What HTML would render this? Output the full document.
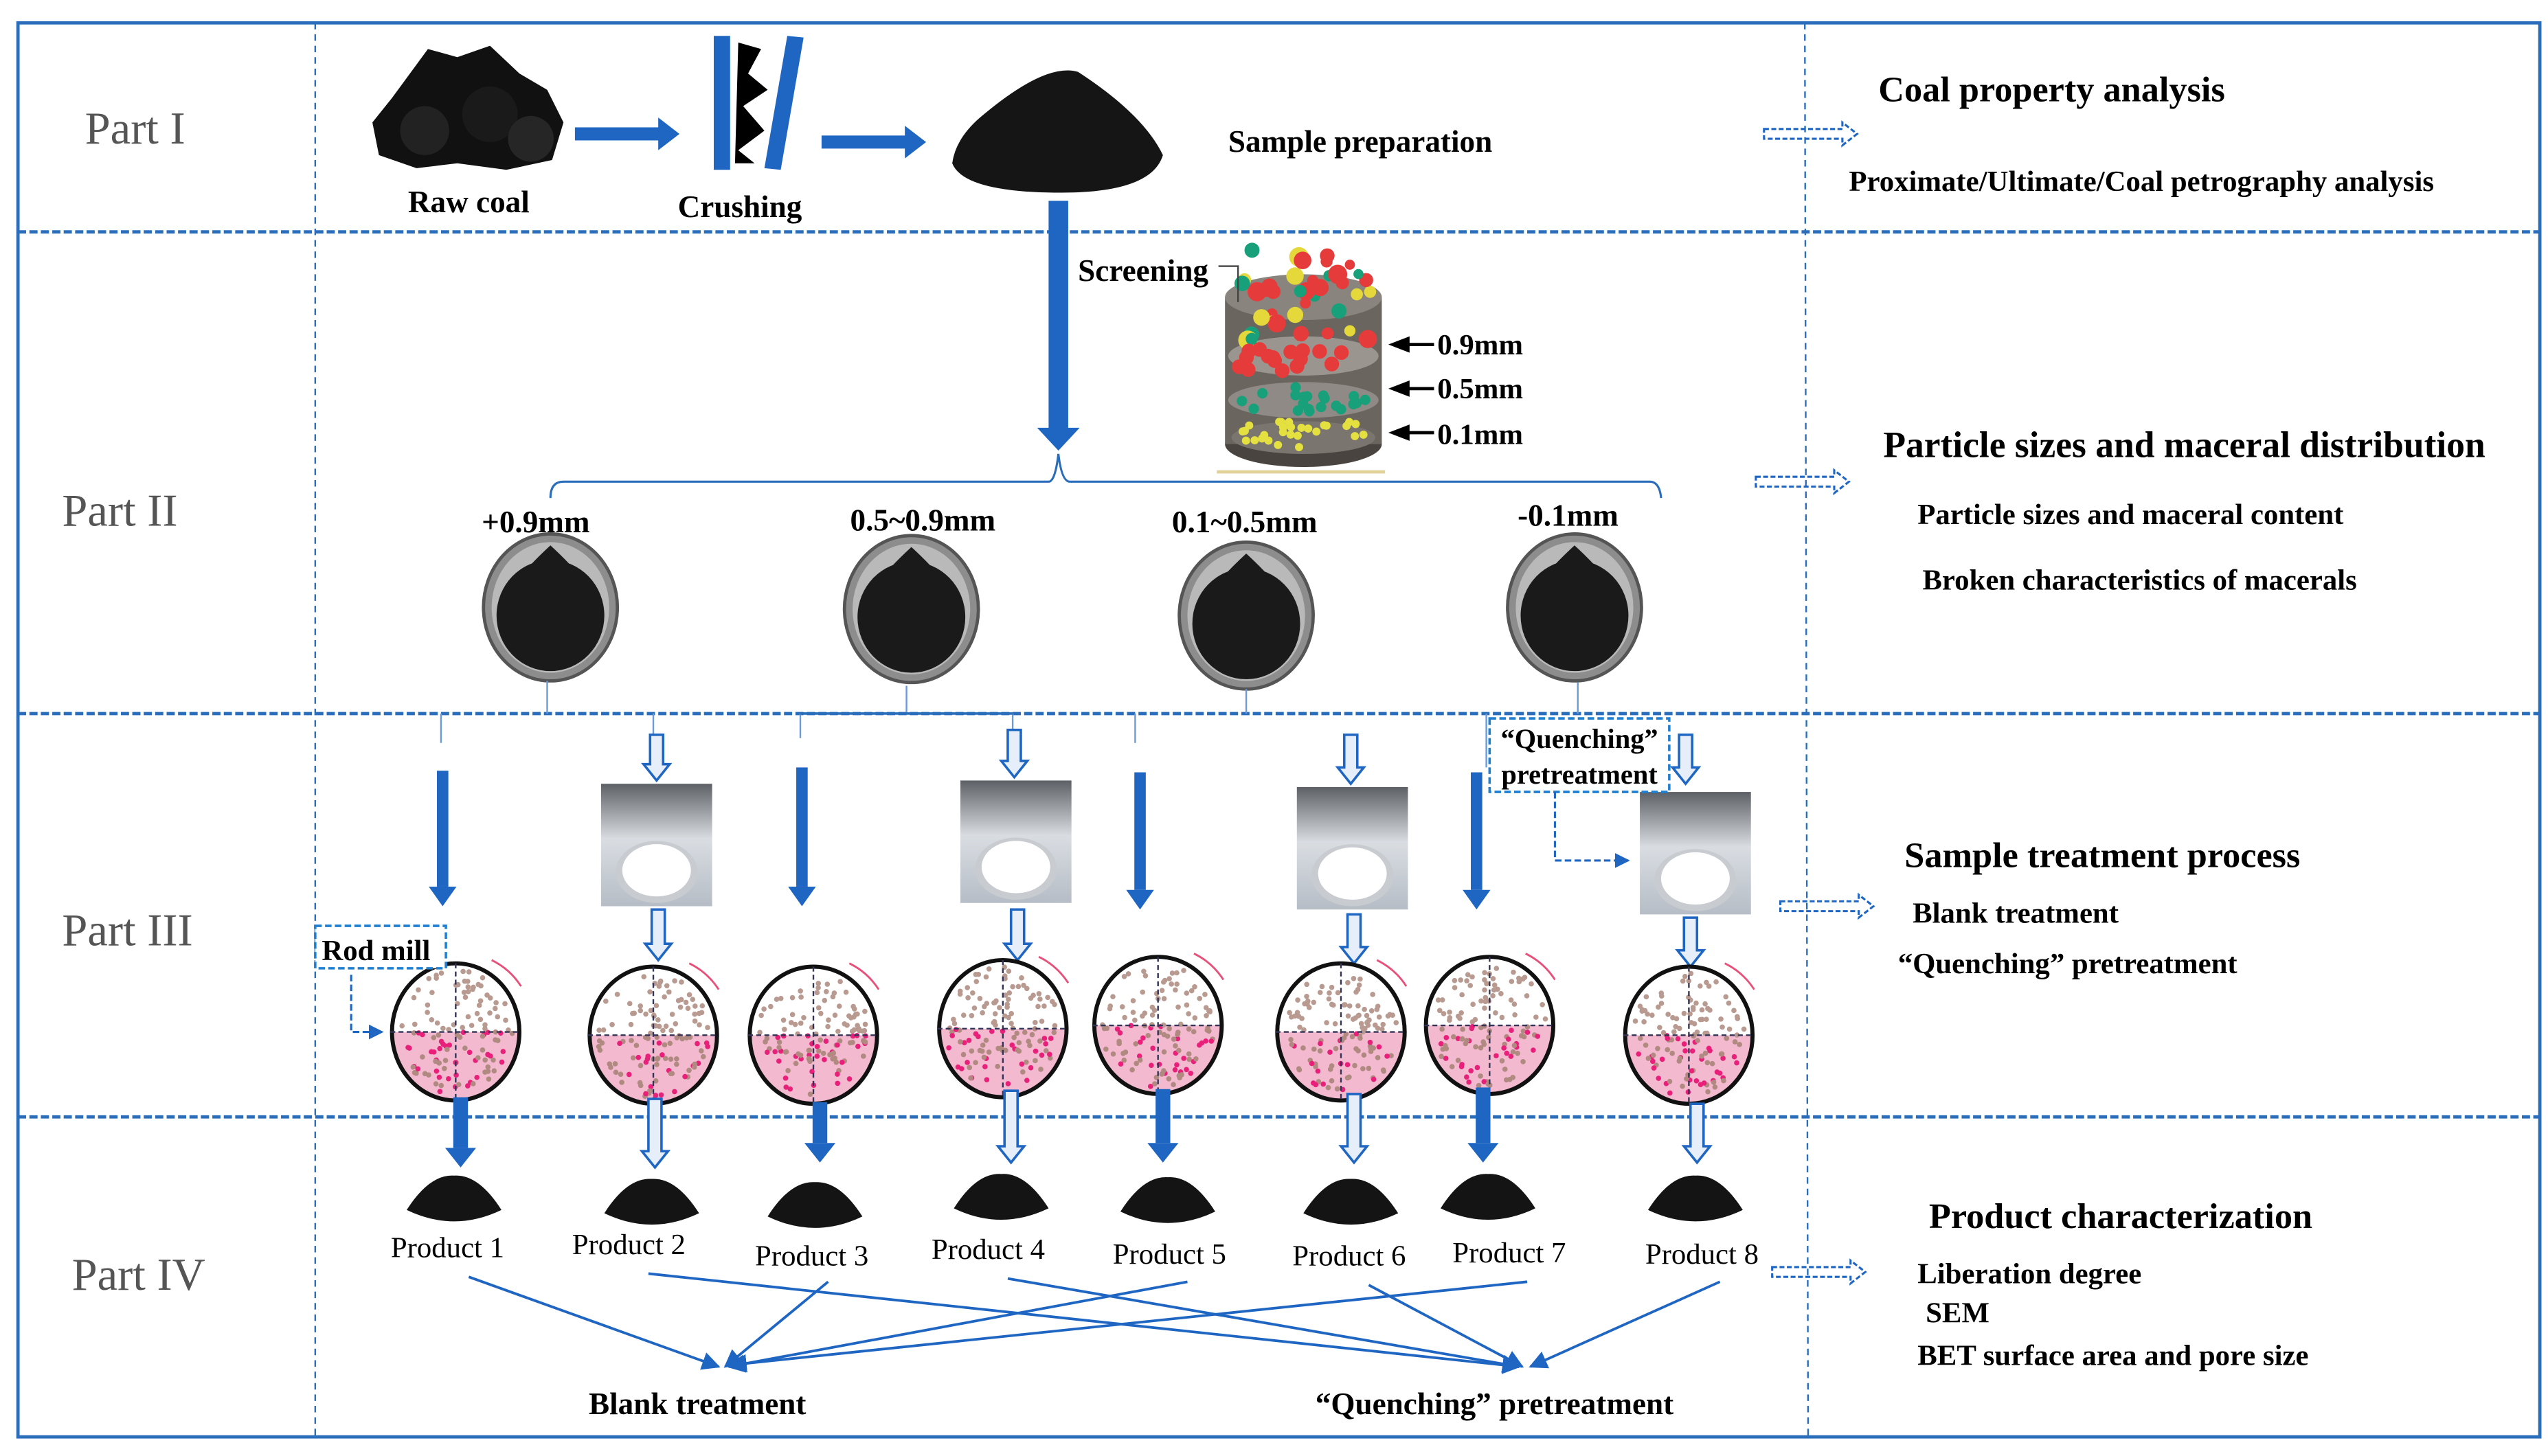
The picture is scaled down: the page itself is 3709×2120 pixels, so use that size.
<!DOCTYPE html>
<html><head><meta charset="utf-8"><style>
html,body{margin:0;padding:0;background:#fff}
svg{display:block}
text{font-family:"Liberation Serif",serif}
.b{font-weight:bold;fill:#000}
.p{fill:#555}
</style></head><body>
<svg id="s" width="3709" height="2120" viewBox="0 0 1560 891.7" preserveAspectRatio="none" xmlns="http://www.w3.org/2000/svg">
<defs>
<linearGradient id="ph" x1="0" y1="0" x2="0" y2="1"><stop offset="0" stop-color="#5d6166"/><stop offset="0.45" stop-color="#d9dde2"/><stop offset="1" stop-color="#b6bdc6"/></linearGradient>
<marker id="ah" viewBox="0 0 10 10" refX="9" refY="5" markerWidth="7" markerHeight="7" orient="auto"><path d="M0,0 L10,5 L0,10 z" fill="#1f66c2"/></marker>
</defs>
<g id="frame" fill="none" stroke="#2a6ebb">
<rect x="11" y="14" width="1544" height="866" stroke-width="2"/>
<g stroke-width="2" stroke-dasharray="5,2"><line x1="11" y1="142" x2="1555" y2="142"/><line x1="11" y1="437" x2="1555" y2="437"/><line x1="11" y1="684" x2="1555" y2="684"/></g>
<g stroke-width="1" stroke-dasharray="4,3"><line x1="193" y1="14" x2="193" y2="880"/><line x1="1105" y1="14" x2="1107" y2="880"/></g>
</g>
<text x="52" y="88" font-size="28" class="p">Part I</text>
<text x="38" y="322" font-size="28" class="p">Part II</text>
<text x="38" y="579" font-size="28" class="p">Part III</text>
<text x="44" y="790" font-size="28" class="p">Part IV</text>

<!-- Part I -->
<g fill="#111">
<path d="M240,60 L262,30 L280,35 L300,28 L318,45 L335,55 L345,75 L338,98 L310,104 L280,100 L255,103 L232,95 L228,75 Z"/>
<circle cx="260" cy="80" r="15" fill="#222"/><circle cx="300" cy="70" r="17" fill="#1a1a1a"/><circle cx="325" cy="85" r="14" fill="#262626"/>
</g>
<g fill="#1f66c2">
<rect x="352" y="78" width="52" height="8"/><path d="M403,72 L416,82 L403,92 Z"/>
<rect x="503" y="83" width="52" height="8"/><path d="M554,77 L567,87 L554,97 Z"/>
<path d="M437,22 L447,22 L447,104 L437,104 Z"/><path d="M482,22 L492,23 L478,104 L468,103 Z"/>
</g>
<path d="M452,26 L466,30 L458,45 L470,55 L455,65 L468,80 L452,92 L462,100 L450,100 Z" fill="#000"/>
<path d="M600,72 Q640,38 660,44 Q700,70 712,95 Q705,118 650,118 Q590,118 583,100 Q585,85 600,72 Z" fill="#151515"/>
<text x="287" y="130" font-size="19" class="b" text-anchor="middle">Raw coal</text>
<text x="453" y="133" font-size="19" class="b" text-anchor="middle">Crushing</text>
<text x="752" y="93" font-size="19" class="b">Sample preparation</text>
<text x="1150" y="62" font-size="22" class="b">Coal property analysis</text>
<text x="1132" y="117" font-size="18" class="b">Proximate/Ultimate/Coal petrography analysis</text>

<!-- Part II -->
<rect x="642" y="123" width="12" height="140" fill="#1f66c2"/><path d="M635,262 L661,262 L648,276 Z" fill="#1f66c2"/>
<path d="M337,305 Q337,295 345,295 L642,295 Q646,295 648,278 Q650,295 655,295 L1010,295 Q1016,295 1017,305" fill="none" stroke="#2a6ebb" stroke-width="1.3"/>
<g id="sieve">
<ellipse cx="798" cy="272" rx="48" ry="14" fill="#4a4440"/>
<rect x="750" y="182" width="96" height="90" fill="#6b6560"/>
<ellipse cx="798" cy="182" rx="48" ry="14" fill="#8a847e"/>
<ellipse cx="798" cy="218" rx="46" ry="12" fill="#9b9590"/>
<ellipse cx="798" cy="245" rx="46" ry="11" fill="#8f8a85"/>
<ellipse cx="798" cy="268" rx="44" ry="10" fill="#7a756f"/>
<g id="balls"></g>
<rect x="745" y="288" width="103" height="2" fill="#e0d29a"/>
</g>
<text x="660" y="172" font-size="19" class="b">Screening</text>
<path d="M746,163 L758,163 L758,185" fill="none" stroke="#444" stroke-width="1"/>
<g stroke="#000" stroke-width="2"><line x1="862" y1="211" x2="878" y2="211"/><line x1="862" y1="238" x2="878" y2="238"/><line x1="862" y1="265" x2="878" y2="265"/></g>
<g fill="#000"><path d="M850,211 L863,206 L863,216Z"/><path d="M850,238 L863,233 L863,243Z"/><path d="M850,265 L863,260 L863,270Z"/></g>
<text x="880" y="217" font-size="18" class="b">0.9mm</text>
<text x="880" y="244" font-size="18" class="b">0.5mm</text>
<text x="880" y="272" font-size="18" class="b">0.1mm</text>
<text x="328" y="326" font-size="19" class="b" text-anchor="middle">+0.9mm</text>
<text x="565" y="325" font-size="19" class="b" text-anchor="middle">0.5~0.9mm</text>
<text x="762" y="326" font-size="19" class="b" text-anchor="middle">0.1~0.5mm</text>
<text x="960" y="322" font-size="19" class="b" text-anchor="middle">-0.1mm</text>
<g id="dishes"></g>
<text x="1153" y="280" font-size="22.5" class="b">Particle sizes and maceral distribution</text>
<text x="1174" y="321" font-size="18" class="b">Particle sizes and maceral content</text>
<text x="1177" y="361" font-size="18" class="b">Broken characteristics of macerals</text>

<g stroke="#6a9ad8" stroke-width="1" fill="none">
<line x1="335" y1="417" x2="335" y2="437"/><line x1="555" y1="420" x2="555" y2="437"/><line x1="763" y1="422" x2="763" y2="437"/><line x1="966" y1="418" x2="966" y2="437"/>
<line x1="270" y1="437" x2="270" y2="455"/><line x1="400" y1="437" x2="400" y2="450"/><line x1="490" y1="437" x2="490" y2="452"/><line x1="620" y1="437" x2="620" y2="447"/><line x1="695" y1="437" x2="695" y2="455"/><line x1="910" y1="437" x2="910" y2="470"/>
<line x1="490" y1="437" x2="620" y2="437" stroke="#2a6ebb" stroke-width="1.5"/>
</g>

<g id="p3"></g>

<rect x="193" y="567" width="80" height="26" fill="#fff" stroke="#1f7fd0" stroke-width="1.5" stroke-dasharray="4,2"/>
<text x="197" y="588" font-size="18" class="b">Rod mill</text>
<path d="M215,597 L215,632 L234,632" fill="none" stroke="#1f66c2" stroke-width="1.3" stroke-dasharray="4,2" marker-end="url(#ah)"/>
<rect x="912" y="440" width="110" height="45" fill="#fff" stroke="#1f7fd0" stroke-width="1.5" stroke-dasharray="4,2"/>
<text x="967" y="458" font-size="17" class="b" text-anchor="middle">“Quenching”</text>
<text x="967" y="480" font-size="17" class="b" text-anchor="middle">pretreatment</text>
<path d="M952,485 L952,527 L997,527" fill="none" stroke="#1f66c2" stroke-width="1.3" stroke-dasharray="4,2" marker-end="url(#ah)"/>

<text x="1166" y="531" font-size="22" class="b">Sample treatment process</text>
<text x="1171" y="565" font-size="18" class="b">Blank treatment</text>
<text x="1162" y="596" font-size="18" class="b">“Quenching” pretreatment</text>

<g stroke="#1f66c2" stroke-width="1.6" fill="none" marker-end="url(#ah)">
<line x1="287" y1="782" x2="440" y2="837"/><line x1="507" y1="785" x2="444" y2="837"/><line x1="727" y1="785" x2="446" y2="837"/><line x1="935" y1="785" x2="447" y2="836"/>
<line x1="397" y1="780" x2="930" y2="837"/><line x1="617" y1="783" x2="930" y2="837"/><line x1="838" y1="787" x2="932" y2="837"/><line x1="1053" y1="785" x2="937" y2="837"/>
</g>
<g font-size="18" text-anchor="middle" fill="#000">
<text x="274" y="770">Product 1</text><text x="385" y="768">Product 2</text><text x="497" y="775">Product 3</text><text x="605" y="771">Product 4</text>
<text x="716" y="774">Product 5</text><text x="826" y="775">Product 6</text><text x="924" y="773">Product 7</text><text x="1042" y="774">Product 8</text>
</g>
<text x="427" y="866" font-size="19" class="b" text-anchor="middle">Blank treatment</text>
<text x="915" y="866" font-size="19" class="b" text-anchor="middle">“Quenching” pretreatment</text>
<text x="1181" y="752" font-size="22" class="b">Product characterization</text>
<text x="1174" y="786" font-size="18" class="b">Liberation degree</text>
<text x="1179" y="810" font-size="18" class="b">SEM</text>
<text x="1174" y="836" font-size="18" class="b">BET surface area and pore size</text>

<g id="dash"></g>
</svg>
<script>
var NS="http://www.w3.org/2000/svg";
function el(p,t,a){var e=document.createElementNS(NS,t);for(var k in a)e.setAttribute(k,a[k]);p.appendChild(e);return e;}
var B=document.getElementById('balls');
var seed=7;function r(){seed=(seed*9301+49297)%233280;return seed/233280;}
for(var i=0;i<40;i++){el(B,'circle',{cx:760+r()*80,cy:152+r()*60,r:3+r()*3,fill:['#e53b3b','#e53b3b','#18a07a','#e4d83a'][i%4]});}
for(var i=0;i<16;i++){el(B,'circle',{cx:758+r()*80,cy:214+r()*14,r:4.5,fill:'#e53b3b'});}
for(var i=0;i<20;i++){el(B,'circle',{cx:758+r()*80,cy:236+r()*16,r:3.2,fill:'#18a07a'});}
for(var i=0;i<28;i++){el(B,'circle',{cx:758+r()*80,cy:258+r()*16,r:2.5,fill:'#e4e040'});}
var D=document.getElementById('dishes');
[[337,372],[558,373],[763,377],[964,372]].forEach(function(c){
el(D,'ellipse',{cx:c[0],cy:c[1],rx:41,ry:45,fill:'#8d8d8d',stroke:'#555','stroke-width':2});
el(D,'ellipse',{cx:c[0],cy:c[1],rx:36,ry:40,fill:'#b9b9b9'});
el(D,'ellipse',{cx:c[0],cy:c[1]+5,rx:33,ry:34,fill:'#1a1a1a'});
el(D,'path',{d:'M'+c[0]+','+(c[1]-38)+' Q'+(c[0]+25)+','+(c[1]-15)+' '+(c[0]+30)+','+c[1]+' L'+(c[0]-30)+','+c[1]+' Q'+(c[0]-25)+','+(c[1]-15)+' '+c[0]+','+(c[1]-38)+'Z',fill:'#1a1a1a'});
});
var P=document.getElementById('p3');
function solid(x,y1,y2,w){el(P,'rect',{x:x-w/2,y:y1,width:w,height:y2-y1-12,fill:'#1f66c2'});el(P,'path',{d:'M'+(x-w/2-5)+','+(y2-12)+' L'+(x+w/2+5)+','+(y2-12)+' L'+x+','+y2+'Z',fill:'#1f66c2'});}
function hollow(x,y1,y2){el(P,'path',{d:'M'+(x-4)+','+y1+' L'+(x+4)+','+y1+' L'+(x+4)+','+(y2-10)+' L'+(x+8)+','+(y2-10)+' L'+x+','+y2+' L'+(x-8)+','+(y2-10)+' L'+(x-4)+','+(y2-10)+'Z',fill:'#e6eefa',stroke:'#1f66c2','stroke-width':1.5});}
[[271,472,555],[491,470,555],[698,473,557],[904,473,557]].forEach(function(a){solid(a[0],a[1],a[2],7);});
[[402,450,478],[621,447,476],[827,450,480],[1032,450,480],[403,557,588],[623,557,588],[829,560,590],[1035,562,592]].forEach(function(a){hollow(a[0],a[1],a[2]);});
[[368,480],[588,478],[794,482],[1004,485]].forEach(function(p){
el(P,'rect',{x:p[0],y:p[1],width:68,height:75,fill:'url(#ph)'});
el(P,'ellipse',{cx:p[0]+34,cy:p[1]+54,rx:25,ry:19,fill:'#c8ccd0'});
el(P,'ellipse',{cx:p[0]+34,cy:p[1]+53,rx:21,ry:16,fill:'#fff'});
});
[[279,632],[400,634],[498,634],[614,630],[709,628],[821,632],[912,628],[1034,634]].forEach(function(c){
var cx=c[0],cy=c[1];
el(P,'path',{d:'M'+(cx-39)+','+cy+' A39,42 0 0 0 '+(cx+39)+','+cy+'Z',fill:'#f2b9cf'});
for(var i=0;i<130;i++){var a=r()*Math.PI*2,d=Math.sqrt(r());var x=cx+Math.cos(a)*d*35,y=cy+Math.sin(a)*d*38;
if(y<cy && x<cx-10+ (cy-y)*0.3 && r()<0.3) continue;
el(P,'circle',{cx:x,cy:y,r:1.6,fill:y>cy?(r()<0.4?'#e8207a':'#b08a80'):'#b89a90'});}
el(P,'ellipse',{cx:cx,cy:cy,rx:39,ry:42,fill:'none',stroke:'#111','stroke-width':2.5});
el(P,'line',{x1:cx-40,y1:cy,x2:cx+40,y2:cy,stroke:'#335','stroke-width':1,'stroke-dasharray':'3,2'});
el(P,'line',{x1:cx,y1:cy-42,x2:cx,y2:cy+42,stroke:'#335','stroke-width':1,'stroke-dasharray':'3,2'});
el(P,'path',{d:'M'+(cx+22)+','+(cy-44)+' A44,46 0 0 1 '+(cx+40)+','+(cy-28),fill:'none',stroke:'#e8507a','stroke-width':1.2});
});
[[282,672,715],[502,675,712],[712,667,712],[908,666,712]].forEach(function(a){solid(a[0],a[1],a[2],9);});
[[401,673,715],[619,668,712],[829,670,712],[1039,676,712]].forEach(function(a){hollow(a[0],a[1],a[2]);});
[[278,735],[399,737],[499,739],[613,734],[715,736],[827,737],[911,734],[1038,735]].forEach(function(c){
el(P,'path',{d:'M'+(c[0]-29)+','+(c[1]+6)+' Q'+(c[0]-15)+','+(c[1]-16)+' '+c[0]+','+(c[1]-15)+' Q'+(c[0]+15)+','+(c[1]-16)+' '+(c[0]+29)+','+(c[1]+6)+' Q'+c[0]+','+(c[1]+20)+' '+(c[0]-29)+','+(c[1]+6)+'Z',fill:'#141414'});
});
var G=document.getElementById('dash');
[[1080,82],[1075,295],[1090,555],[1085,779]].forEach(function(a){var x=a[0],y=a[1];
el(G,'path',{d:'M'+x+','+(y-3)+' L'+(x+48)+','+(y-3)+' L'+(x+48)+','+(y-7)+' L'+(x+57)+','+y+' L'+(x+48)+','+(y+7)+' L'+(x+48)+','+(y+3)+' L'+x+','+(y+3)+'Z',fill:'none',stroke:'#1f66c2','stroke-width':1.3,'stroke-dasharray':'3,1.5'});
});
</script>
</body></html>
